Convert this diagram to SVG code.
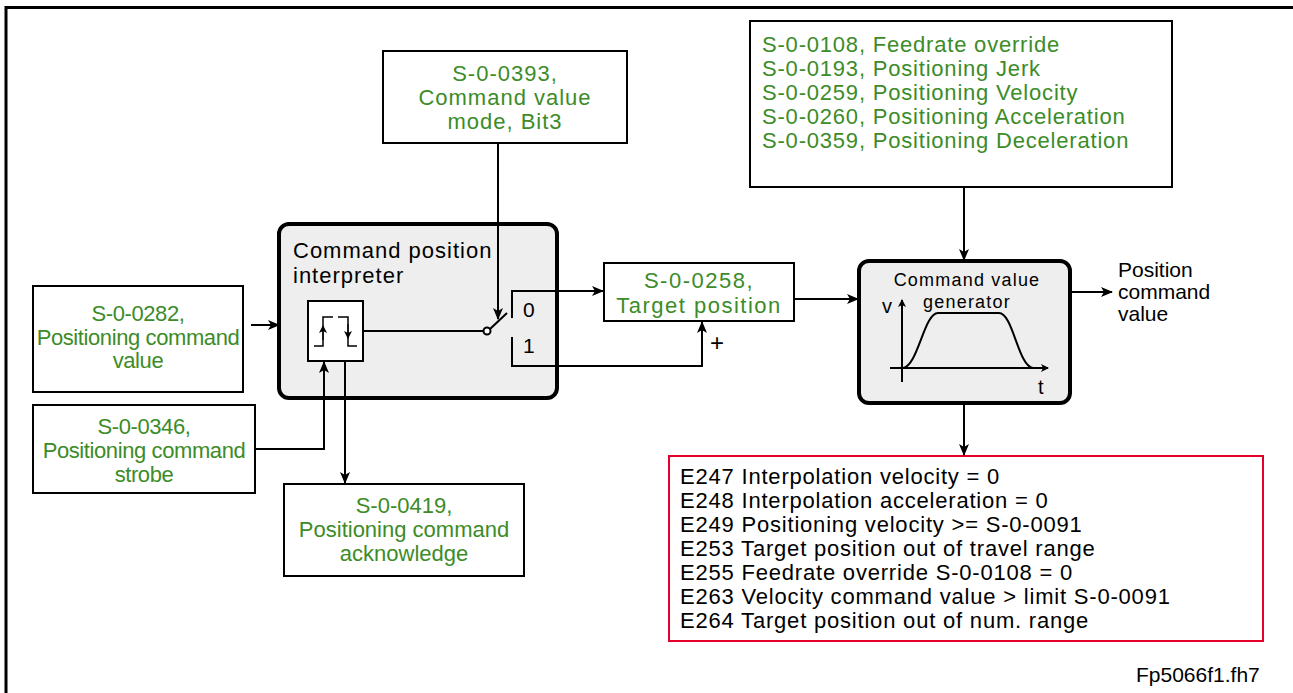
<svg xmlns="http://www.w3.org/2000/svg" width="1293" height="693" viewBox="0 0 1293 693">
<style>
text{font-family:"Liberation Sans",Arial,sans-serif;}
.g{fill:#3c8c28;font-size:22px;text-anchor:middle;}
.gl{letter-spacing:-0.4px;}
.k{fill:#000;font-size:22px;}
.box{fill:#fff;stroke:#000;stroke-width:2;}
.blk{fill:#eeeeee;stroke:#000;stroke-width:4;}
.ln{fill:none;stroke:#000;stroke-width:2;}
.arr{fill:none;stroke:#000;stroke-width:2;marker-end:url(#ah);}
</style>
<defs>
<marker id="ah" markerWidth="12" markerHeight="10" refX="11" refY="5" orient="auto" markerUnits="userSpaceOnUse">
<path d="M0,0 L12,5 L0,10 L3,5 z" fill="#000"/>
</marker>
<marker id="sh" markerWidth="8" markerHeight="8" refX="7" refY="4" orient="auto" markerUnits="userSpaceOnUse">
<path d="M0,0 L8,4 L0,8 L2,4 z" fill="#000"/>
</marker>
</defs>
<rect width="1293" height="693" fill="#fff"/>
<g id="frame"><path d="M6,693 V7.5 H1293" fill="none" stroke="#000" stroke-width="3"/></g>

<g id="n0393">
<rect class="box" x="383" y="51" width="244" height="92"/>
<text class="g" x="505" y="81" style="letter-spacing:1px">S-0-0393,</text>
<text class="g" x="505" y="105" style="letter-spacing:1px">Command value</text>
<text class="g" x="505" y="129" style="letter-spacing:1px">mode, Bit3</text>
</g>

<g id="nparams">
<rect class="box" x="750" y="21" width="422" height="166"/>
<text class="g" x="762" y="52" style="text-anchor:start;letter-spacing:0.8px">S-0-0108, Feedrate override</text>
<text class="g" x="762" y="76" style="text-anchor:start;letter-spacing:0.8px">S-0-0193, Positioning Jerk</text>
<text class="g" x="762" y="100" style="text-anchor:start;letter-spacing:0.8px">S-0-0259, Positioning Velocity</text>
<text class="g" x="762" y="124" style="text-anchor:start;letter-spacing:0.8px">S-0-0260, Positioning Acceleration</text>
<text class="g" x="762" y="148" style="text-anchor:start;letter-spacing:0.8px">S-0-0359, Positioning Deceleration</text>
</g>

<g id="ninterp">
<rect class="blk" x="279" y="224" width="278" height="174" rx="10"/>
<text class="k" x="293" y="258" style="letter-spacing:1px">Command position</text>
<text class="k" x="293" y="283" style="letter-spacing:1px">interpreter</text>
<rect class="box" x="308" y="301" width="55" height="60"/>
<polyline class="ln" points="314,346 323,346 323,317 333,317" style="stroke-width:1.5"/>
<polyline class="ln" points="338,317 348,317 348,346 357,346" style="stroke-width:1.5"/>
<line x1="323" y1="340" x2="323" y2="326" stroke="#000" stroke-width="1.2" marker-end="url(#sh)"/>
<line x1="348" y1="324" x2="348" y2="338" stroke="#000" stroke-width="1.2" marker-end="url(#sh)"/>
<text class="k" x="523" y="317" style="font-size:21px">0</text>
<text class="k" x="523" y="353" style="font-size:21px">1</text>
</g>

<g id="n0282">
<rect class="box" x="33" y="286" width="210" height="106"/>
<text class="g gl" x="138" y="321">S-0-0282,</text>
<text class="g gl" x="138" y="345">Positioning command</text>
<text class="g gl" x="138" y="368">value</text>
</g>

<g id="n0346">
<rect class="box" x="33" y="405" width="222" height="88"/>
<text class="g gl" x="144" y="434">S-0-0346,</text>
<text class="g gl" x="144" y="458">Positioning command</text>
<text class="g gl" x="144" y="482">strobe</text>
</g>

<g id="n0419">
<rect class="box" x="284" y="484" width="240" height="92"/>
<text class="g" x="404" y="513">S-0-0419,</text>
<text class="g" x="404" y="537">Positioning command</text>
<text class="g" x="404" y="561">acknowledge</text>
</g>

<g id="n0258">
<rect class="box" x="604" y="263" width="190" height="58"/>
<text class="g" x="699" y="288" style="letter-spacing:1.5px">S-0-0258,</text>
<text class="g" x="699" y="313" style="letter-spacing:1.5px">Target position</text>
<text class="k" x="710" y="351" style="font-size:24px">+</text>
</g>

<g id="ngen">
<rect class="blk" x="859" y="261" width="211" height="142" rx="10"/>
<text class="k" x="967" y="286" style="font-size:18px;text-anchor:middle;letter-spacing:1.2px">Command value</text>
<text class="k" x="967" y="308" style="font-size:18px;text-anchor:middle;letter-spacing:1.2px">generator</text>
<line x1="902" y1="382" x2="902" y2="300" stroke="#000" stroke-width="2" marker-end="url(#sh)"/>
<line x1="890" y1="368" x2="1048" y2="368" stroke="#000" stroke-width="2" marker-end="url(#sh)"/>
<path class="ln" d="M903,368 C918,366 924,313 938,313 L999,313 C1013,313 1018,366 1033,368"/>
<text class="k" x="882" y="313" style="font-size:20px">v</text>
<text class="k" x="1038" y="394" style="font-size:20px">t</text>
</g>

<g id="nout">
<text class="k" x="1118" y="277" style="font-size:21px">Position</text>
<text class="k" x="1118" y="299" style="font-size:21px">command</text>
<text class="k" x="1118" y="321" style="font-size:21px">value</text>
</g>

<g id="nerrors">
<rect x="669" y="456" width="594" height="185" fill="#fff" stroke="#e4002b" stroke-width="2"/>
<g class="k" style="letter-spacing:0.8px">
<text x="680" y="484">E247 Interpolation velocity = 0</text>
<text x="680" y="508">E248 Interpolation acceleration = 0</text>
<text x="680" y="532">E249 Positioning velocity &gt;= S-0-0091</text>
<text x="680" y="556">E253 Target position out of travel range</text>
<text x="680" y="580">E255 Feedrate override S-0-0108 = 0</text>
<text x="680" y="604">E263 Velocity command value &gt; limit S-0-0091</text>
<text x="680" y="628">E264 Target position out of num. range</text>
</g>
</g>

<g id="footer"><text class="k" x="1136" y="682" style="font-size:21px">Fp5066f1.fh7</text></g>

<g id="connectors">
<line class="arr" x1="251" y1="325" x2="279" y2="325"/>
<polyline class="arr" points="255,449 324,449 324,362"/>
<line class="arr" x1="345" y1="361" x2="345" y2="483"/>
<line class="ln" x1="363" y1="331" x2="483.5" y2="331"/>
<line class="ln" x1="490" y1="329" x2="507" y2="313"/>
<circle cx="487" cy="331" r="3.5" fill="#fff" stroke="#000" stroke-width="2"/>
<line class="arr" x1="498" y1="143" x2="498" y2="319"/>
<polyline class="arr" points="512,318 512,291 603,291"/>
<polyline class="arr" points="512,337 512,366 702,366 702,322"/>
<line class="arr" x1="794" y1="299" x2="858" y2="299"/>
<line class="arr" x1="964" y1="187" x2="964" y2="260"/>
<line class="arr" x1="1070" y1="292" x2="1112" y2="292"/>
<line class="arr" x1="964" y1="403" x2="964" y2="455"/>
</g>
</svg>
